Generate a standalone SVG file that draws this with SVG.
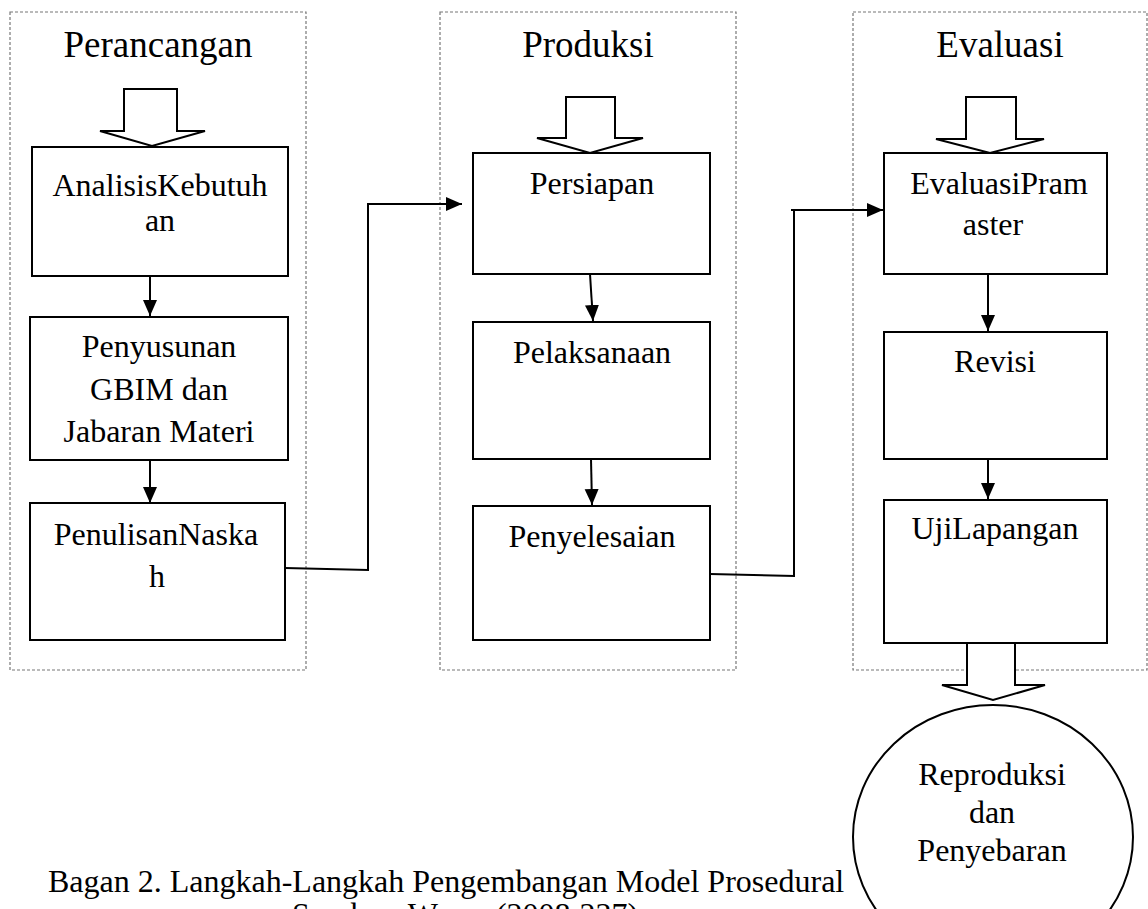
<svg xmlns="http://www.w3.org/2000/svg" width="1148" height="909" viewBox="0 0 1148 909">
<style>
.frame{fill:none;stroke:#777;stroke-width:1.2;stroke-dasharray:3 2}
.box{fill:#fff;stroke:#000;stroke-width:2}
.blk{fill:#fff;stroke:#000;stroke-width:2;stroke-linejoin:miter}
.t{font-family:"Liberation Serif","Times New Roman",serif;font-size:32px;fill:#000;text-anchor:middle}
.title{font-family:"Liberation Serif","Times New Roman",serif;font-size:37px;fill:#000;text-anchor:middle}
.cap{font-family:"Liberation Serif","Times New Roman",serif;font-size:32px;fill:#000}
.con{fill:none;stroke:#000;stroke-width:2}
</style>
<defs>
<marker id="ah" markerUnits="userSpaceOnUse" markerWidth="17" markerHeight="15" refX="16" refY="7" orient="auto">
<path d="M0,0 L16,7 L0,14 z" fill="#000"/>
</marker>
</defs>
<rect width="1148" height="909" fill="#fff"/>

<g id="frame-perancangan">
<rect class="frame" x="10" y="12" width="296" height="658"/>
<text class="title" x="158" y="57">Perancangan</text>
<polygon class="blk" points="124,89 177,89 177,131 205,131 152,146 100,131 124,131"/>
</g>
<g id="frame-produksi">
<rect class="frame" x="440" y="12" width="296" height="658"/>
<text class="title" x="588" y="57">Produksi</text>
<polygon class="blk" points="566,97 615,97 615,138 643,138 590,153 537,138 566,138"/>
</g>
<g id="frame-evaluasi">
<rect class="frame" x="853" y="12" width="294" height="658"/>
<text class="title" x="1000" y="57">Evaluasi</text>
<polygon class="blk" points="966,97 1016,97 1016,139 1044,139 990,153 936,139 966,139"/>
</g>

<g id="n-analisis">
<rect class="box" x="32" y="147" width="256" height="129"/>
<text class="t" x="160" y="196">AnalisisKebutuh</text>
<text class="t" x="160" y="231">an</text>
</g>
<g id="n-penyusunan">
<rect class="box" x="30" y="317" width="258" height="143"/>
<text class="t" x="159" y="357">Penyusunan</text>
<text class="t" x="159" y="400">GBIM dan</text>
<text class="t" x="159" y="442">Jabaran Materi</text>
</g>
<g id="n-penulisan">
<rect class="box" x="30" y="503" width="255" height="137"/>
<text class="t" x="156" y="545">PenulisanNaska</text>
<text class="t" x="157" y="587">h</text>
</g>

<g id="n-persiapan">
<rect class="box" x="473" y="153" width="237" height="121"/>
<text class="t" x="592" y="194">Persiapan</text>
</g>
<g id="n-pelaksanaan">
<rect class="box" x="473" y="322" width="237" height="137"/>
<text class="t" x="592" y="363">Pelaksanaan</text>
</g>
<g id="n-penyelesaian">
<rect class="box" x="473" y="506" width="237" height="134"/>
<text class="t" x="592" y="547">Penyelesaian</text>
</g>

<g id="n-evaluasipramaster">
<rect class="box" x="884" y="153" width="223" height="121"/>
<text class="t" x="999" y="194">EvaluasiPram</text>
<text class="t" x="993" y="235">aster</text>
</g>
<g id="n-revisi">
<rect class="box" x="884" y="332" width="223" height="127"/>
<text class="t" x="995" y="372">Revisi</text>
</g>
<g id="n-ujilapangan">
<rect class="box" x="884" y="500" width="223" height="143"/>
<text class="t" x="995" y="539">UjiLapangan</text>
</g>

<g id="n-reproduksi">
<polygon class="blk" points="967,643 1015,643 1015,685 1045,685 993,700 942,685 967,685"/>
<ellipse class="box" cx="993" cy="837" rx="140" ry="132"/>
<text class="t" x="992" y="785">Reproduksi</text>
<text class="t" x="992" y="823">dan</text>
<text class="t" x="992" y="861">Penyebaran</text>
</g>

<g id="connectors">
<line class="con" x1="150" y1="276" x2="150" y2="316" marker-end="url(#ah)"/>
<line class="con" x1="150" y1="460" x2="150" y2="503" marker-end="url(#ah)"/>
<line class="con" x1="590" y1="274" x2="593" y2="321" marker-end="url(#ah)"/>
<line class="con" x1="591" y1="459" x2="592" y2="505" marker-end="url(#ah)"/>
<line class="con" x1="988" y1="274" x2="988" y2="331" marker-end="url(#ah)"/>
<line class="con" x1="988" y1="459" x2="988" y2="499" marker-end="url(#ah)"/>
<path class="con" d="M285,568 L368,570 L368,204 L462,204" marker-end="url(#ah)"/>
<path class="con" d="M710,574 L794,576 L794,210 M791,210 L883,210" marker-end="url(#ah)"/>
</g>

<g id="caption">
<text class="cap" x="48" y="892">Bagan 2. Langkah-Langkah Pengembangan Model Prosedural</text>
<text class="cap" x="292" y="925">Sumber: Wena, (2008:237)</text>
</g>
</svg>
